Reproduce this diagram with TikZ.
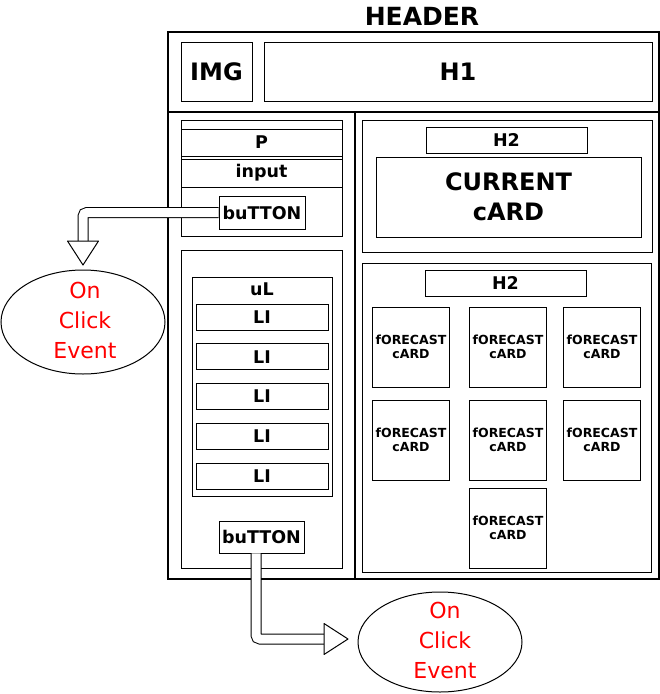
\documentclass[tikz,border=0pt]{standalone}
\usepackage{fontspec}
\setmainfont{DejaVu Sans}
\usepackage{tikz}
\usetikzlibrary{shapes.geometric}

\begin{document}
\begin{tikzpicture}[x=1pt, y=-1pt,
  frame/.style 2 args={draw, line width=1.3pt, inner sep=0pt, minimum width=#1, minimum height=#2},
  box/.style 2 args={draw, line width=0.9pt, inner sep=0pt, minimum width=#1, minimum height=#2},
  big/.style={font=\bfseries\fontsize{24}{30}\selectfont, align=center},
  mid/.style={font=\bfseries\fontsize{17.5}{19}\selectfont},
  small/.style={font=\bfseries\fontsize{12.5}{13.5}\selectfont, align=center},
  event/.style={draw, ellipse, line width=1pt, inner sep=0pt, minimum width=164pt, minimum height=104pt},
  eventtext/.style={text=red, align=center, font=\fontsize{22}{30}\selectfont},
  shaft/.style={draw, line width=1pt, double distance=9pt, rounded corners=4pt},
  head/.style={draw, line width=1pt, fill=white, line join=round}]
\useasboundingbox (0,0) rectangle (660,694);

\node[big, font=\bfseries\fontsize{25}{30}\selectfont] (title) at (422,16) {HEADER};
\node[frame={491pt}{80pt}] (hdr) at (413.5,72) {};
\node[frame={187pt}{467pt}] (side) at (261.5,345.5) {};
\node[frame={304pt}{467pt}] (main) at (507,345.5) {};

\node[box={71pt}{59pt}, big] (img) at (216.5,71.5) {IMG};
\node[box={388pt}{59pt}, big] (h1) at (458,71.5) {H1};

% left column
\node[box={161pt}{116pt}] (form) at (261.5,178) {};
\node[box={161pt}{27pt}, mid] (p) at (261.5,142.5) {P};
\node[box={161pt}{28pt}, mid] (input) at (261.5,173) {input};
\node[box={86pt}{33pt}, mid] (btn1) at (262,212.5) {buTTON};

\node[box={161pt}{318pt}] (list) at (261.5,409) {};
\node[box={140pt}{219pt}] (ul) at (262,386.5) {};
\node[mid] (ultext) at (262,289) {uL};
\foreach \i in {0,...,4}
  \node[box={132pt}{26pt}, mid] (li\i) at (262,317+39.75*\i) {LI};
\node[box={85pt}{32pt}, mid] (btn2) at (261.5,537) {buTTON};

% right column
\node[box={290pt}{132pt}] (cur) at (507,186) {};
\node[box={161pt}{26pt}, mid] (h2a) at (506.5,140) {H2};
\node[box={265pt}{80pt}, big] (card) at (508.5,197) {CURRENT\\cARD};

\node[box={289pt}{309pt}] (fc) at (506.5,417.5) {};
\node[box={161pt}{26pt}, mid] (h2b) at (505.5,283) {H2};
\foreach \x/\y [count=\n] in {411/347, 508/347, 602/347, 411/440, 508/440, 602/440, 508/528}
  \node[box={77pt}{80pt}, small] (fcard\n) at (\x,\y) {fORECAST\\cARD};

% click events
\node[event] (ev1) at (83,322) {};
\node[eventtext] (ev1text) at (85,320) {On\\Click\\Event};
\node[event, minimum height=100pt] (ev2) at (440,642) {};
\node[eventtext] (ev2text) at (445,640) {On\\Click\\Event};

\draw[shaft] (btn1.west) -| ([yshift=28.5pt]ev1.north);
\draw[head] ([yshift=4.5pt]ev1.north) -- ++(-15.5pt,24pt) -- ++(31pt,0pt) -- cycle;
\draw[shaft] ([xshift=-5.5pt]btn2.south) |- ([xshift=-33.5pt,yshift=3pt]ev2.west);
\draw[head] ([xshift=-9.5pt,yshift=3pt]ev2.west) -- ++(-24pt,15.5pt) -- ++(0pt,-31pt) -- cycle;
\end{tikzpicture}
\end{document}
